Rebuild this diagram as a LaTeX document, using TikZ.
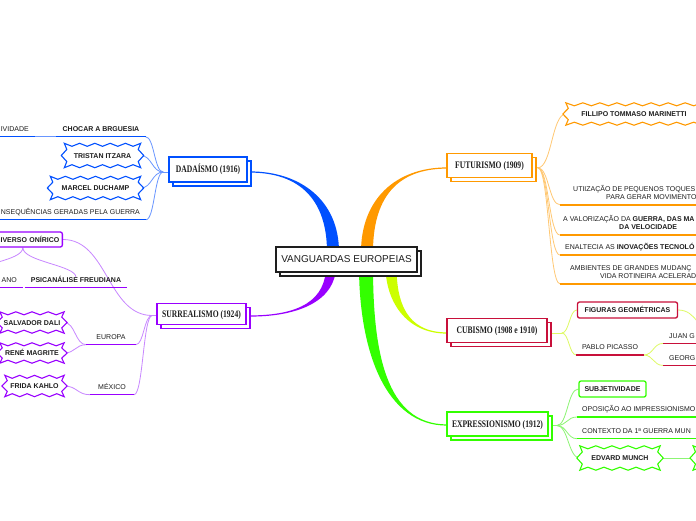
\documentclass[tikz,border=0pt]{standalone}
\usepackage{fontspec}
\setmainfont{Liberation Sans}
\newfontfamily\titlefont{Liberation Serif}[FakeStretch=0.76]
\usetikzlibrary{shadows,calc}
\pgfdeclarelayer{bg}
\pgfdeclarelayer{mid}
\pgfsetlayers{bg,mid,main}
\definecolor{cDada}{RGB}{0,80,255}
\definecolor{cDadaL}{RGB}{105,150,255}
\definecolor{cSurr}{RGB}{153,0,255}
\definecolor{cSurrL}{RGB}{200,135,255}
\definecolor{cFutu}{RGB}{255,153,0}
\definecolor{cFutuL}{RGB}{255,200,115}
\definecolor{cCubi}{RGB}{204,255,0}
\definecolor{cCubiL}{RGB}{222,250,100}
\definecolor{cCrim}{RGB}{200,16,58}
\definecolor{cExpr}{RGB}{51,255,0}
\definecolor{cExprL}{RGB}{140,245,115}
\definecolor{ink}{RGB}{30,30,30}
\newcommand\uline[2]{\draw[#2,line width=1.4pt] ([yshift=-5pt]#1.south west) coordinate (#1L) -- ([yshift=-5pt]#1.south east) coordinate (#1R);}
% starburst outline round a node: #1 node, #2 colour, #3 teeth along top
\newcommand\zz[3]{%
 \path[draw=#2, line width=1.1pt, fill=white, line join=miter]
  let \p1=(#1.north west), \p2=(#1.south east), \n1={(\x2-\x1)/#3} in
  (\p1) \foreach \k in {1,...,#3} { -- ({\x1+(\k-0.5)*\n1},{\y1-3pt}) -- ({\x1+\k*\n1},\y1) }
  -- ({\x2-2.5pt},{0.75*\y1+0.25*\y2}) -- ({\x2+3pt},{0.5*\y1+0.5*\y2}) -- ({\x2-2.5pt},{0.25*\y1+0.75*\y2}) -- (\x2,\y2)
  \foreach \k in {#3,...,1} { -- ({\x1+(\k-0.5)*\n1},{\y2+3pt}) -- ({\x1+(\k-1)*\n1},\y2) }
  -- ({\x1+2.5pt},{0.25*\y1+0.75*\y2}) -- ({\x1-3pt},{0.5*\y1+0.5*\y2}) -- ({\x1+2.5pt},{0.75*\y1+0.25*\y2}) -- cycle;}
\begin{document}
\begin{tikzpicture}[x=1pt,y=-1pt,
 txt/.style={font=\fontsize{7}{8.3}\selectfont, text=ink, text height=5pt, text depth=0pt, inner ysep=0pt, inner xsep=6pt},
 txtb/.style={txt, font=\fontsize{7}{8.3}\selectfont\bfseries},
 ft/.style={txt, inner xsep=0pt, align=left, anchor=south west},
 topic/.style={draw=#1, line width=1.6pt, fill=white, inner sep=0pt, text=ink, text height=6.5pt, text depth=0pt, font=\titlefont\bfseries\fontsize{10}{11}\selectfont, copy shadow={shadow xshift=4pt, shadow yshift=-4pt}},
 zig/.style={text=ink, font=\fontsize{7}{8.3}\selectfont\bfseries, text height=5pt, text depth=0pt, inner sep=0pt},
 rbox/.style={draw=#1, line width=1.3pt, rounded corners=2pt, fill=white, text=ink, font=\fontsize{7}{8.3}\selectfont\bfseries, text height=5pt, text depth=0pt, inner xsep=3pt, inner ysep=0pt, minimum height=16pt},
 lc/.style={draw=#1, line width=0.8pt},
 ul/.style={draw=#1, line width=1.4pt},
 hc/.style={to path={let \p1=(\tikztostart), \p2=(\tikztotarget) in .. controls ({(\x1+\x2)/2},\y1) and ({(\x1+\x2)/2},\y2) .. (\tikztotarget)}}
]
\useasboundingbox (0,0) rectangle (696,520);
\begin{pgfonlayer}{bg}
\fill[white] (0,0) rectangle (696,520);
\end{pgfonlayer}

% centre
\node[topic=ink, font=\fontsize{10}{12}\selectfont, text height=7pt, minimum width=141pt, minimum height=25pt] (van) at (346.5,259.3) {VANGUARDAS EUROPEIAS};

% Dadaismo
\node[topic=cDada, minimum width=78pt, minimum height=25pt] (dada) at (208,169.5) {DADAÍSMO (1916)};
\node[txt, anchor=east] (ivid) at (35,129) {IVIDADE};
\node[txtb] (chocar) at (101,129) {CHOCAR A BRGUESIA};
\node[zig, minimum width=76pt, minimum height=24pt] (tris) at (102.5,155.5) {TRISTAN ITZARA};
\node[zig, minimum width=90pt, minimum height=23pt] (marc) at (95.5,188) {MARCEL DUCHAMP};
\node[txt, anchor=east] (cons) at (146,212) {NSEQUÊNCIAS GERADAS PELA GUERRA};

% Surrealismo
\node[topic=cSurr, minimum width=89pt, minimum height=21pt] (surr) at (201.5,314) {SURREALISMO (1924)};
\node[rbox=cSurr, minimum height=15pt, text width=73pt, align=right, anchor=east] (onir) at (63,239.5) {IVERSO ONÍRICO};
\node[txt, anchor=east] (ano) at (23,280) {ANO};
\node[txtb] (psic) at (76,280) {PSICANÁLISE FREUDIANA};
\node[zig, minimum width=64pt, minimum height=21pt] (salv) at (32,322.5) {SALVADOR DALI};
\node[zig, minimum width=64pt, minimum height=20pt] (rene) at (32,353) {RENÉ MAGRITE};
\node[zig, minimum width=59pt, minimum height=21pt] (frid) at (34.5,386) {FRIDA KAHLO};
\node[txt, inner xsep=10pt] (euro) at (111,337) {EUROPA};
\node[txt, inner xsep=8pt] (mexi) at (112,387) {MÉXICO};

% Futurismo
\node[topic=cFutu, minimum width=85pt, minimum height=24pt] (futu) at (489.5,165.3) {FUTURISMO (1909)};
\node[zig, minimum width=136pt, minimum height=22pt] (mari) at (634,114) {FILLIPO TOMMASO MARINETTI};
\node[ft] (fu1) at (573,199.5) {UTIIZAÇÃO DE PEQUENOS TOQUES\\\hspace*{33pt}PARA GERAR MOVIMENTO};
\node[ft] (fu2) at (563,229.8) {A VALORIZAÇÃO DA \textbf{GUERRA, DAS MA}\\\hspace*{56pt}\textbf{DA VELOCIDADE}};
\node[ft] (fu3) at (565,249.8) {ENALTECIA AS \textbf{INOVAÇÕES TECNOLÓ}};
\node[ft] (fu4) at (570,278.5) {AMBIENTES DE GRANDES MUDANÇ\\\hspace*{30pt}VIDA ROTINEIRA ACELERAD};

% Cubismo
\node[topic=cCrim, minimum width=100pt, minimum height=24pt] (cubi) at (497,330.5) {CUBISMO (1908 e 1910)};
\node[rbox=cCrim, minimum width=100pt] (figu) at (627.5,310) {FIGURAS GEOMÉTRICAS};
\node[txt, inner xsep=5.5pt] (pica) at (610,347.3) {PABLO PICASSO};
\node[txt, anchor=west] (juan) at (663,335.7) {JUAN G};
\node[txt, anchor=west] (geor) at (663,357.7) {GEORG};

% Expressionismo
\node[topic=cExpr, minimum width=101pt, minimum height=24pt] (expr) at (497.5,424) {EXPRESSIONISMO (1912)};
\node[rbox=cExpr, minimum width=67pt] (subj) at (612.5,389) {SUBJETIVIDADE};
\node[txt, inner xsep=5pt, anchor=west] (opos) at (577,409.3) {OPOSIÇÃO AO IMPRESSIONISMO};
\node[txt, inner xsep=5pt, anchor=west] (cont) at (577,431) {CONTEXTO DA 1ª GUERRA MUN};
\node[zig, minimum width=80pt, minimum height=24pt] (munc) at (620,458) {EDVARD MUNCH};
\node[zig, minimum width=80pt, minimum height=24pt, anchor=west] (munc2) at (693,458) {};

% starburst outlines
\begin{pgfonlayer}{mid}
\zz{tris}{cDada}{5}
\zz{marc}{cDada}{6}
\zz{salv}{cSurr}{4}
\zz{rene}{cSurr}{4}
\zz{frid}{cSurr}{4}
\zz{mari}{cFutu}{8}
\zz{munc}{cExpr}{5}
\zz{munc2}{cExpr}{5}
\end{pgfonlayer}

% underlines
\uline{ivid}{cDada} \uline{chocar}{cDada} \uline{cons}{cDada}
\uline{ano}{cSurr} \uline{psic}{cSurr} \uline{euro}{cSurr} \uline{mexi}{cSurr}
\uline{pica}{cCrim} \uline{juan}{cCrim} \uline{geor}{cCrim}
\uline{opos}{cExpr} \uline{cont}{cExpr}
\coordinate (fu1L) at ([xshift=-13pt,yshift=-5.3pt]fu1.south west);
\coordinate (fu2L) at ([xshift=-3pt,yshift=-5.3pt]fu2.south west);
\coordinate (fu3L) at ([xshift=-5pt,yshift=-5.3pt]fu3.south west);
\coordinate (fu4L) at ([xshift=-10pt,yshift=-5.3pt]fu4.south west);
\coordinate (fu1R) at ([xshift=150pt]fu1L);
\coordinate (fu2R) at ([xshift=150pt]fu2L);
\coordinate (fu3R) at ([xshift=150pt]fu3L);
\coordinate (fu4R) at ([xshift=150pt]fu4L);
\draw[ul=cFutu] (fu1L) -- (fu1R);
\draw[ul=cFutu] (fu2L) -- (fu2R);
\draw[ul=cFutu] (fu3L) -- (fu3R);
\draw[ul=cFutu] (fu4L) -- (fu4R);

\begin{pgfonlayer}{bg}
% main tapered branches
\fill[cDada] (250,171.4) .. controls (300,171.4) and (339,200) .. (339,252) -- (327,252) .. controls (327,200) and (300,172.6) .. (250,172.6) -- cycle;
\fill[cSurr] (250,316.6) .. controls (300,316.6) and (336,300) .. (336,266) -- (326,266) .. controls (326,300) and (300,315.4) .. (250,315.4) -- cycle;
\fill[cFutu] (447,167.4) .. controls (395,167.4) and (361,200) .. (361,252) -- (373,252) .. controls (373,200) and (395,168.6) .. (447,168.6) -- cycle;
\fill[cCubi] (447,333.6) .. controls (405,333.6) and (385.5,300) .. (385.5,266) -- (396.5,266) .. controls (396.5,300) and (405,332.4) .. (447,332.4) -- cycle;
\fill[cExpr] (447,425.6) .. controls (385,425.6) and (359,350) .. (359,266) -- (373,266) .. controls (373,350) and (385,424.4) .. (447,424.4) -- cycle;

% Dadaismo connectors
\coordinate (dadaJ) at ([xshift=-5pt,yshift=-2.5pt]dada.west);
\draw[lc=cDadaL] ([yshift=-2.5pt]dada.west) -- (dadaJ);
\draw[lc=cDadaL] (ividR) -- (chocarL);
\draw[lc=cDadaL] (chocarR) to[hc] (dadaJ);
\draw[lc=cDadaL] (tris.east) to[hc] (dadaJ);
\draw[lc=cDadaL] (marc.east) to[hc] (dadaJ);
\draw[lc=cDadaL] (consR) to[hc] (dadaJ);

% Surrealismo connectors
\coordinate (surrJ) at ([xshift=-4pt,yshift=-1.5pt]surr.west);
\coordinate (anoT) at (-30,276);
\draw[lc=cSurrL] ([yshift=-1.5pt]surr.west) -- (surrJ);
\draw[lc=cSurrL] (onir.east) to[hc] (surrJ);
\draw[lc=cSurrL] (euroR) to[hc] (surrJ);
\draw[lc=cSurrL] (mexiR) to[hc] (surrJ);
\draw[lc=cSurrL] (salv.east) to[hc] (euroL);
\draw[lc=cSurrL] (rene.east) to[hc] (euroL);
\draw[lc=cSurrL] (frid.east) to[hc] (mexiL);
\draw[lc=cSurrL] (onir.south) .. controls +(0,14) and +(0,-12) .. (psic.north);
\draw[lc=cSurrL] (onir.south) .. controls +(0,14) and +(0,-12) .. (anoT);

% Futurismo connectors
\coordinate (futuJ) at ([xshift=5pt,yshift=-2.5pt]futu.east);
\draw[lc=cFutuL] ([yshift=-2.5pt]futu.east) -- (futuJ);
\draw[lc=cFutuL] (futuJ) to[hc] (mari.west);
\draw[lc=cFutuL] (futuJ) to[hc] (fu1L);
\draw[lc=cFutuL] (futuJ) to[hc] (fu2L);
\draw[lc=cFutuL] (futuJ) to[hc] (fu3L);
\draw[lc=cFutuL] (futuJ) to[hc] (fu4L);

% Cubismo connectors
\coordinate (cubiJ) at ([xshift=14pt,yshift=-2.5pt]cubi.east);
\coordinate (figuX) at ([xshift=38pt,yshift=-22pt]figu.east);
\draw[lc=cCubiL] ([yshift=-2.5pt]cubi.east) -- (cubiJ);
\draw[lc=cCubiL] (cubiJ) to[hc] (figu.west);
\draw[lc=cCubiL] (cubiJ) to[hc] (picaL);
\draw[lc=cCubiL] (figu.east) to[hc] (figuX);
\draw[lc=cCubiL] (picaR) to[hc] (juanL);
\draw[lc=cCubiL] (picaR) to[hc] (georL);

% Expressionismo connectors
\coordinate (exprJ) at ([xshift=8pt,yshift=-1.5pt]expr.east);
\draw[lc=cExprL] ([yshift=-1.5pt]expr.east) -- (exprJ);
\draw[lc=cExprL] (exprJ) to[hc] (subj.west);
\draw[lc=cExprL] (exprJ) to[hc] (oposL);
\draw[lc=cExprL] (exprJ) to[hc] (contL);
\draw[lc=cExprL] (exprJ) to[hc] (munc.west);
\draw[lc=cExprL] (munc.east) -- (munc2.west);
\end{pgfonlayer}
\end{tikzpicture}
\end{document}
